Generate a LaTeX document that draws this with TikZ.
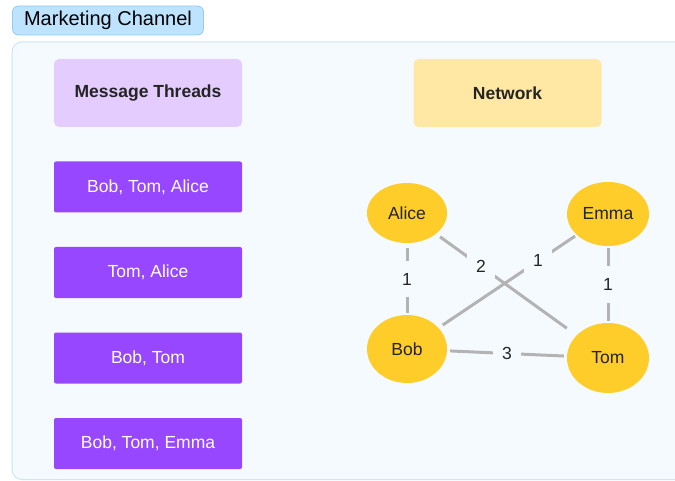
\documentclass[tikz,border=0pt]{standalone}
\usepackage{fontspec}
\setmainfont{Liberation Sans}
\usetikzlibrary{shapes.geometric}

\definecolor{panelfill}{HTML}{F5FAFF}
\definecolor{panelline}{HTML}{CBE5FA}
\definecolor{tagfill}{HTML}{BDE3FF}
\definecolor{tagline}{HTML}{94CBF0}
\definecolor{threadhead}{HTML}{E4CCFF}
\definecolor{nethead}{HTML}{FFE8A3}
\definecolor{threadpurple}{HTML}{9747FF}
\definecolor{personyellow}{HTML}{FFCD29}
\definecolor{linkgray}{HTML}{B3B3B3}
\definecolor{inkdark}{HTML}{242424}

\newcommand{\boxfont}{\fontsize{17.5}{20}\selectfont}

\tikzset{
  tagbox/.style={rectangle, rounded corners=6pt, draw=tagline, fill=tagfill, line width=0.8pt,
    minimum width=191pt, minimum height=29pt, font=\fontsize{20}{23}\selectfont},
  header/.style={rectangle, rounded corners=5pt, minimum width=188pt, minimum height=68pt,
    text=inkdark, font=\boxfont\bfseries},
  thread/.style={rectangle, rounded corners=2pt, fill=threadpurple, text=white,
    minimum width=188pt, minimum height=51pt, font=\boxfont},
  person/.style={ellipse, fill=personyellow, inner sep=0pt, text=inkdark, font=\boxfont},
  link/.style={draw=linkgray, line width=3pt},
  weight/.style={fill=panelfill, inner xsep=9pt, inner ysep=12pt, text=inkdark, font=\boxfont}
}

\begin{document}
\begin{tikzpicture}[x=1pt, y=-1pt]
		\useasboundingbox (0,0) rectangle (675,481);
		\fill[white] (0,0) rectangle (675,481);
		
		% panel and its tag
		\draw[draw=panelline, fill=panelfill, line width=1pt, rounded corners=10pt] (12,42) rectangle (700,479.5);
		\node[tagbox] (tag) at (108,20.5) {Marketing Channel};
		
		% left column
		\node[header, fill=threadhead] (threads) at (148,93) {Message Threads};
		\node[thread] (t1) at (148,187) {Bob, Tom, Alice};
		\node[thread] (t2) at (148,272.5) {Tom, Alice};
		\node[thread] (t3) at (148,358) {Bob, Tom};
		\node[thread] (t4) at (148,443.5) {Bob, Tom, Emma};
		
		% right column
		\node[header, fill=nethead] (network) at (507.5,93) {Network};
		\node[person, minimum width=80pt, minimum height=60pt] (alice) at (407,213) {Alice};
		\node[person, minimum width=82pt, minimum height=64pt] (emma) at (608,214) {Emma};
		\node[person, minimum width=80pt, minimum height=68pt] (bob) at (407,349) {Bob};
		\node[person, minimum width=82pt, minimum height=70pt] (tom) at (608,358) {Tom};
		
		\draw[link, shorten <=5pt, shorten >=2pt] (alice) -- node[weight] {1} (bob);
		\draw[link, shorten <=2pt, shorten >=2pt] (emma) -- node[weight] {1} (tom);
		\draw[link, shorten <=3pt, shorten >=3pt] (bob) -- node[weight] {3} (tom);
		\draw[link, shorten <=5pt, shorten >=12pt] (alice) -- node[weight, pos=0.32] {2} (tom);
		\draw[link, shorten <=2pt, shorten >=5pt] (emma) -- node[weight, pos=0.28] {1} (bob);
		\end{tikzpicture}
\end{document}
